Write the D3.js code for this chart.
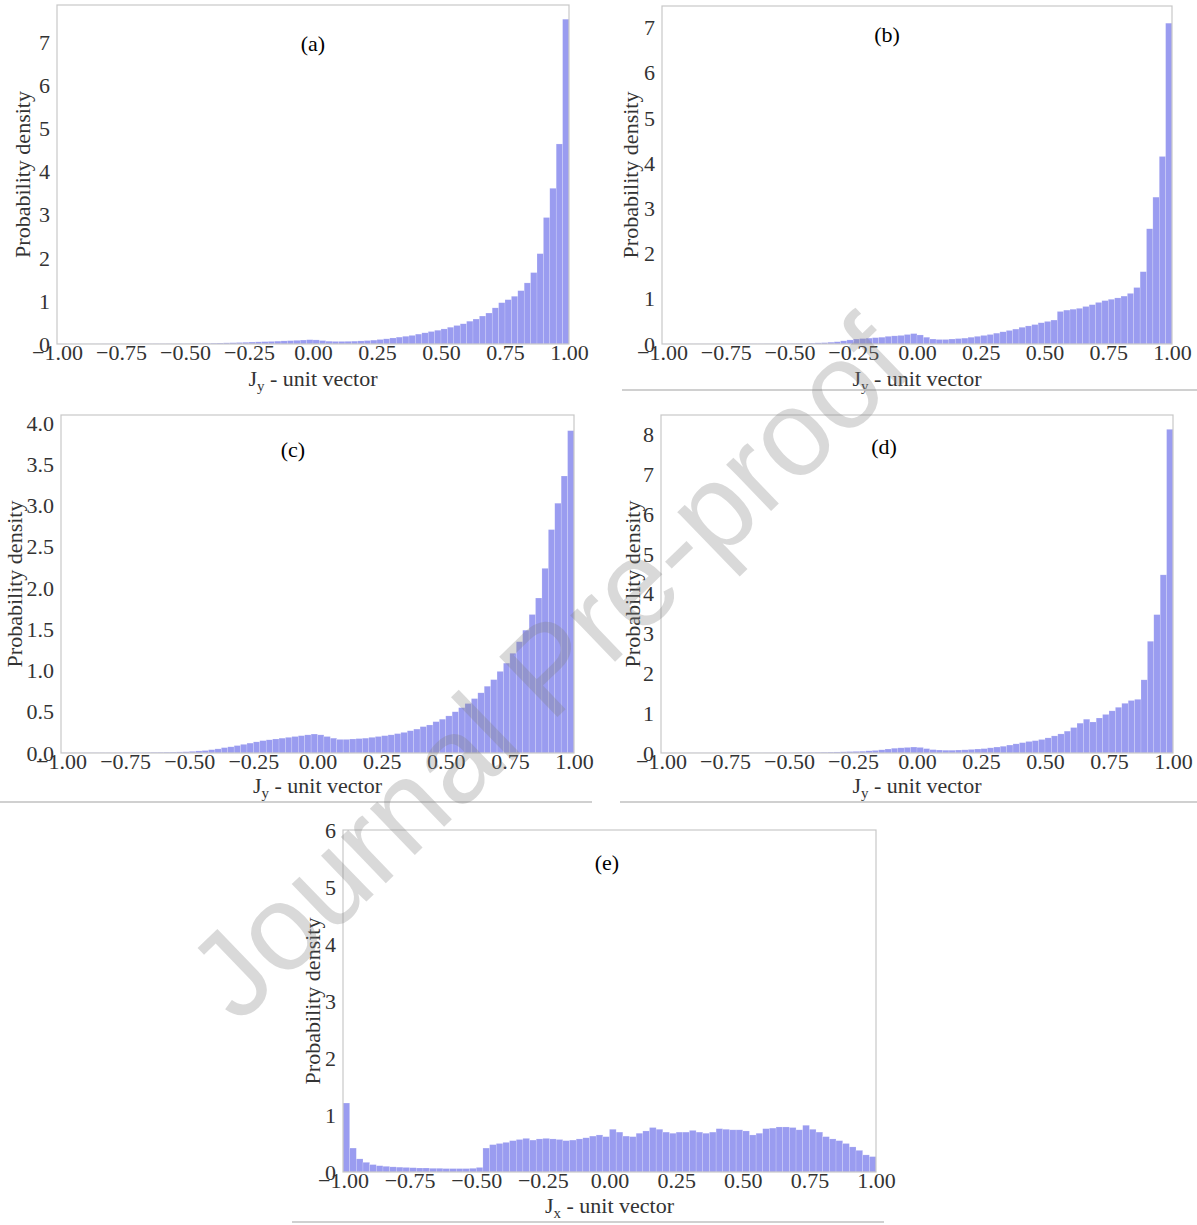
<!DOCTYPE html>
<html>
<head>
<meta charset="utf-8">
<script src="https://cdn.jsdelivr.net/npm/d3@7"></script>
<style>
  body { margin: 0; background: #fff; }
</style>
</head>
<body>
<svg id="fig" width="1197" height="1225"></svg>
<script>
// probability density per bin (80 bins of 0.025 from -1 to 1)
const densA = [0.002,0.002,0.002,0.003,0.003,0.003,0.003,0.004,0.004,0.004,
  0.005,0.005,0.005,0.006,0.006,0.007,0.007,0.008,0.008,0.009,
  0.010,0.012,0.014,0.016,0.020,0.023,0.027,0.030,0.035,0.040,
  0.045,0.050,0.055,0.060,0.066,0.072,0.078,0.085,0.092,0.100,
  0.095,0.080,0.065,0.060,0.060,0.062,0.066,0.072,0.080,0.090,
  0.105,0.120,0.140,0.160,0.180,0.200,0.230,0.260,0.290,0.320,
  0.350,0.390,0.430,0.470,0.530,0.580,0.650,0.720,0.840,0.960,
  1.030,1.110,1.240,1.420,1.660,2.100,2.940,3.620,4.650,7.550];

const densB = [0.002,0.002,0.002,0.002,0.003,0.003,0.003,0.003,0.004,0.004,
  0.004,0.005,0.005,0.005,0.006,0.006,0.007,0.007,0.008,0.009,
  0.010,0.012,0.015,0.020,0.025,0.030,0.040,0.050,0.070,0.090,
  0.110,0.120,0.130,0.140,0.150,0.170,0.180,0.190,0.210,0.230,
  0.200,0.150,0.110,0.100,0.100,0.110,0.120,0.130,0.150,0.170,
  0.190,0.210,0.240,0.270,0.300,0.330,0.370,0.400,0.430,0.470,
  0.500,0.530,0.720,0.750,0.770,0.790,0.830,0.870,0.920,0.960,
  0.990,1.020,1.060,1.120,1.250,1.600,2.550,3.250,4.150,7.100];

const densC = [0.002,0.002,0.002,0.003,0.003,0.003,0.004,0.004,0.004,0.005,
  0.005,0.006,0.006,0.007,0.008,0.009,0.010,0.011,0.013,0.015,
  0.020,0.025,0.030,0.040,0.050,0.065,0.075,0.090,0.105,0.120,
  0.135,0.150,0.160,0.170,0.180,0.190,0.200,0.210,0.220,0.230,
  0.220,0.200,0.180,0.165,0.165,0.170,0.175,0.180,0.190,0.200,
  0.210,0.220,0.235,0.250,0.270,0.290,0.320,0.340,0.380,0.410,
  0.450,0.500,0.550,0.600,0.660,0.730,0.810,0.890,0.990,1.090,
  1.210,1.350,1.490,1.680,1.880,2.240,2.710,3.030,3.360,3.910];

const densD = [0.002,0.002,0.002,0.002,0.003,0.003,0.003,0.003,0.003,0.004,
  0.004,0.004,0.004,0.005,0.005,0.005,0.006,0.006,0.006,0.007,
  0.008,0.010,0.012,0.015,0.018,0.020,0.023,0.026,0.030,0.035,
  0.040,0.045,0.055,0.065,0.080,0.100,0.120,0.130,0.140,0.150,
  0.140,0.110,0.085,0.075,0.070,0.070,0.075,0.080,0.090,0.100,
  0.110,0.130,0.150,0.170,0.200,0.230,0.260,0.290,0.310,0.340,
  0.380,0.430,0.480,0.550,0.640,0.750,0.850,0.780,0.880,0.970,
  1.060,1.150,1.250,1.320,1.350,1.840,2.810,3.480,4.480,8.140];

const densE = [1.210,0.420,0.230,0.170,0.130,0.110,0.100,0.090,0.085,0.080,
  0.075,0.070,0.070,0.065,0.065,0.060,0.060,0.060,0.060,0.065,
  0.080,0.420,0.480,0.500,0.520,0.550,0.570,0.590,0.560,0.580,
  0.590,0.580,0.570,0.550,0.560,0.580,0.600,0.630,0.650,0.620,
  0.750,0.700,0.630,0.620,0.680,0.720,0.780,0.750,0.700,0.680,
  0.700,0.700,0.730,0.700,0.680,0.700,0.760,0.750,0.740,0.740,
  0.720,0.650,0.680,0.760,0.770,0.790,0.790,0.780,0.740,0.820,
  0.750,0.700,0.620,0.580,0.550,0.500,0.440,0.380,0.300,0.270];

const binWidth = 0.025;
const binLeft = d3.range(80).map(i => -1 + i * binWidth);
const xTicks = [-1, -0.75, -0.5, -0.25, 0, 0.25, 0.5, 0.75, 1];
const ticksInt = n => d3.range(0, n + 1);
const ticksHalf = [0, 0.5, 1, 1.5, 2, 2.5, 3, 3.5, 4];

// layout of each subplot: box = [left, right, top, bottom]
const panels = [
  { values: densA, box: [57, 569, 5, 344], yMax: 7.88, yTicks: ticksInt(7), yFmt: d3.format("d"),
    tag: "(a)", tagPos: [313, 51], sub: "y", yLabX: 30, xLabY: 386 },
  { values: densB, box: [662, 1172, 6, 344], yMax: 7.48, yTicks: ticksInt(7), yFmt: d3.format("d"),
    tag: "(b)", tagPos: [887, 42], sub: "y", yLabX: 638, xLabY: 386 },
  { values: densC, box: [61, 574, 415, 753], yMax: 4.1, yTicks: ticksHalf, yFmt: d3.format(".1f"),
    tag: "(c)", tagPos: [293, 457], sub: "y", yLabX: 22, xLabY: 793 },
  { values: densD, box: [661, 1173, 415, 753], yMax: 8.5, yTicks: ticksInt(8), yFmt: d3.format("d"),
    tag: "(d)", tagPos: [884, 454], sub: "y", yLabX: 640, xLabY: 793 },
  { values: densE, box: [343, 876, 830, 1172], yMax: 6, yTicks: ticksInt(6), yFmt: d3.format("d"),
    tag: "(e)", tagPos: [607, 870], sub: "x", yLabX: 320, xLabY: 1213 }
];

const serif = "Liberation Serif, Times New Roman, serif";
const textColor = "#333";
const svg = d3.select("#fig");

panels.forEach(p => {
  const [x0, x1, y0, y1] = p.box;
  const x = d3.scaleLinear().domain([-1, 1]).range([x0, x1]);
  const y = d3.scaleLinear().domain([0, p.yMax]).range([y1, y0]);
  const g = svg.append("g");

  // histogram bars
  g.selectAll("rect.bar")
    .data(p.values)
    .join("rect")
    .attr("class", "bar")
    .attr("x", (d, i) => x(binLeft[i]))
    .attr("width", (d, i) => x(binLeft[i] + binWidth) - x(binLeft[i]))
    .attr("y", d => y(d))
    .attr("height", d => y(0) - y(d))
    .attr("fill", "#9a9cf0")
    .attr("stroke", "#fff")
    .attr("stroke-opacity", 0.35)
    .attr("stroke-width", 0.5);

  // frame
  g.append("rect")
    .attr("x", x0).attr("y", y0)
    .attr("width", x1 - x0).attr("height", y1 - y0)
    .attr("fill", "none")
    .attr("stroke", "#c8c8c8")
    .attr("stroke-width", 1.2);

  // x axis labels
  const gx = g.append("g")
    .attr("transform", `translate(0,${y1})`)
    .call(d3.axisBottom(x).tickValues(xTicks).tickSize(0).tickPadding(0)
      .tickFormat(d3.format(".2f")));
  gx.select(".domain").remove();
  gx.selectAll("text")
    .attr("font-family", serif)
    .attr("font-size", 22)
    .attr("fill", textColor);

  // y axis labels
  const gy = g.append("g")
    .attr("transform", `translate(${x0},0)`)
    .call(d3.axisLeft(y).tickValues(p.yTicks).tickSize(0).tickPadding(7)
      .tickFormat(p.yFmt));
  gy.select(".domain").remove();
  gy.selectAll("text")
    .attr("font-family", serif)
    .attr("font-size", 22)
    .attr("fill", textColor);

  // axis titles
  const xt = g.append("text")
    .attr("x", (x0 + x1) / 2)
    .attr("y", p.xLabY)
    .attr("text-anchor", "middle")
    .attr("font-family", serif)
    .attr("font-size", 22)
    .attr("fill", textColor);
  xt.append("tspan").text("J");
  xt.append("tspan").attr("font-size", 15).attr("dy", 5).text(p.sub);
  xt.append("tspan").attr("dy", -5).text(" - unit vector");

  g.append("text")
    .attr("transform", `translate(${p.yLabX},${(y0 + y1) / 2}) rotate(-90)`)
    .attr("text-anchor", "middle")
    .attr("font-family", serif)
    .attr("font-size", 22)
    .attr("fill", textColor)
    .text("Probability density");

  // panel tag
  g.append("text")
    .attr("x", p.tagPos[0])
    .attr("y", p.tagPos[1])
    .attr("text-anchor", "middle")
    .attr("font-family", serif)
    .attr("font-size", 22)
    .attr("fill", "#000")
    .text(p.tag);
});

// page rules under the subplots
const rules = [
  [622, 1197, 390], [0, 592, 802], [620, 1197, 802], [292, 884, 1222]
];
svg.selectAll("line.rule")
  .data(rules)
  .join("line")
  .attr("class", "rule")
  .attr("x1", d => d[0]).attr("x2", d => d[1])
  .attr("y1", d => d[2]).attr("y2", d => d[2])
  .attr("stroke", "#d0d0d0")
  .attr("stroke-width", 2);

// watermark
svg.append("text")
  .attr("transform", "translate(548,668) rotate(-44)")
  .attr("text-anchor", "middle")
  .attr("dominant-baseline", "central")
  .attr("font-family", "Liberation Sans, Arial, sans-serif")
  .attr("font-size", 122)
  .attr("fill", "#808080")
  .attr("fill-opacity", 0.3)
  .text("Journal Pre-proof");
</script>
</body>
</html>
